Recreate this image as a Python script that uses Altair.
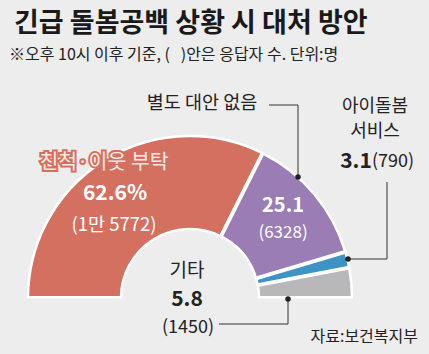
import altair as alt
import pandas as pd
import math

categories = ["친척·이웃 부탁", "별도 대안 없음", "아이돌봄 서비스", "기타"]
shares = [62.6, 25.1, 3.1, 5.8]
counts = ["1만 5772", "6328", "790", "1450"]
colors = ["#D4705F", "#9B7DB6", "#3C93C4", "#B8B8BA"]

df = pd.DataFrame({"cat": categories, "share": shares, "count": counts,
                   "order": list(range(len(categories)))})

FONT = "Noto Sans CJK KR"
CX, CY = 190, 298

arc = alt.Chart(df).mark_arc(innerRadius=69, outerRadius=162, stroke="white",
                             strokeWidth=2.5, padAngle=0.008).encode(
    theta=alt.Theta("share:Q", stack=True,
                    scale=alt.Scale(range=[-math.pi / 2, math.pi / 2])),
    color=alt.Color("cat:N", scale=alt.Scale(domain=categories, range=colors), legend=None),
    order=alt.Order("order:Q"),
    x=alt.value(CX), y=alt.value(CY),
)

base = alt.Chart(pd.DataFrame({"a": [0]}))


def txt(text, x, y, size, color="#222", weight="normal", align="center", **kw):
    return base.mark_text(text=text, font=FONT, fontSize=size, color=color,
                          fontWeight=weight, align=align, baseline="middle", **kw).encode(
        x=alt.value(x), y=alt.value(y))


def rule(x, y, x2, y2):
    return base.mark_rule(color="#333", strokeWidth=1).encode(
        x=alt.value(x), y=alt.value(y), x2=alt.value(x2), y2=alt.value(y2))


def dot(x, y):
    return base.mark_point(filled=True, size=30, color="#222", opacity=1).encode(
        x=alt.value(x), y=alt.value(y))


layers = [
    arc,
    txt("긴급 돌봄공백 상황 시 대처 방안", 14, 24, 27, color="#1a1a1a", weight="bold", align="left"),
    txt("※오후 10시 이후 기준, (\u00a0\u00a0\u00a0)안은 응답자 수. 단위:명", 9, 55, 16, color="#222", align="left"),
    # red label with halo
    txt(categories[0], 104, 163, 20.5, color="#D4705F", stroke="#D4705F", strokeWidth=4),
    txt(categories[0], 104, 163, 20.5, color="#FBE9E4"),
    txt(f"{shares[0]}%", 115, 194, 21, color="white", weight="bold"),
    txt(f"({counts[0]})", 114, 225, 18.5, color="white"),
    # purple
    txt(f"{shares[1]}", 283, 206, 20, color="white", weight="bold"),
    txt(f"({counts[1]})", 283, 233, 17, color="white"),
    txt(categories[1], 202, 103, 18.5),
    rule(269, 105, 298, 105), rule(298, 105, 298, 177), dot(298, 177),
    # blue
    txt("아이돌봄", 375, 107, 18),
    txt("서비스", 375, 132, 18),
    txt(f"{shares[2]}", 356, 162, 21, weight="bold"),
    txt(f"({counts[2]})", 393, 162, 18),
    rule(387, 182, 387, 259), rule(348, 259, 387, 259), dot(348, 259),
    # gray
    txt("기타", 187, 271, 19),
    txt(f"{shares[3]}", 187, 300, 21, weight="bold"),
    txt(f"({counts[3]})", 188, 328, 18),
    rule(288, 299, 288, 324), rule(219, 324, 288, 324), dot(288, 299),
    txt("자료:보건복지부", 418, 337, 16, align="right"),
]

chart = alt.layer(*layers).properties(
    width=429, height=354, padding=0, autosize=alt.AutoSizeParams(type="none"),
    background="#EDEDED",
).configure_view(stroke=None)

chart.save("out.html", embed_options={"renderer": "svg", "actions": False})
